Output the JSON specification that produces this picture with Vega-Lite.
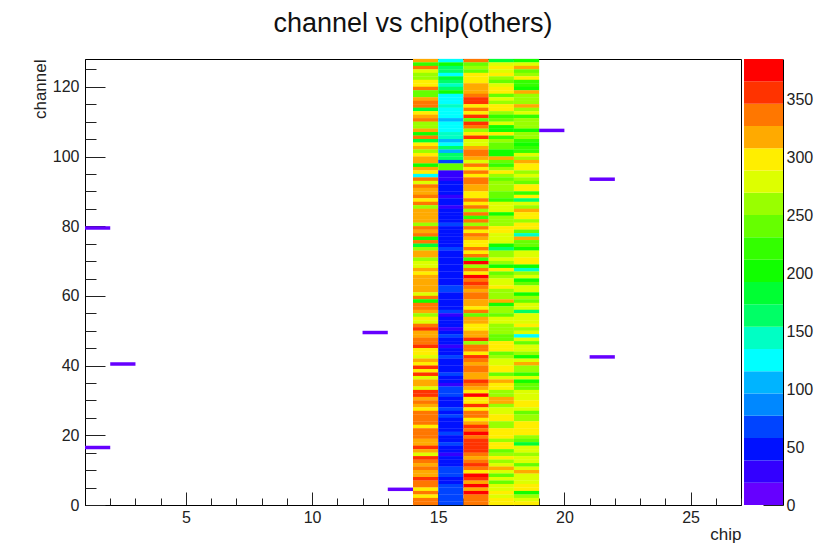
{"$schema":"https://vega.github.io/schema/vega-lite/v6.json","autosize":{"type":"none"},"padding":{"left":85,"top":59,"right":751,"bottom":486},"background":"white","spacing":2,"config":{"font":"Liberation Sans","view":{"stroke":null},"axis":{"grid":false,"labelFont":"Liberation Sans","titleFont":"Liberation Sans","labelFontSize":16,"titleFontSize":17,"titleFontWeight":"normal","labelColor":"#222","titleColor":"#222","tickColor":"#222","domainColor":"#000"}},
"datasets":{"bands":[{"lo":0,"hi":19.2,"v":10},{"lo":19.2,"hi":38.4,"v":29},{"lo":38.4,"hi":57.7,"v":48},{"lo":57.7,"hi":76.9,"v":67},{"lo":76.9,"hi":96.1,"v":86},{"lo":96.1,"hi":115.4,"v":106},{"lo":115.4,"hi":134.6,"v":125},{"lo":134.6,"hi":153.8,"v":144},{"lo":153.8,"hi":173.1,"v":163},{"lo":173.1,"hi":192.3,"v":182},{"lo":192.3,"hi":211.5,"v":202},{"lo":211.5,"hi":230.8,"v":221},{"lo":230.8,"hi":250,"v":240},{"lo":250,"hi":269.2,"v":259},{"lo":269.2,"hi":288.4,"v":279},{"lo":288.4,"hi":307.7,"v":298},{"lo":307.7,"hi":326.9,"v":317},{"lo":326.9,"hi":346.1,"v":336},{"lo":346.1,"hi":365.4,"v":355},{"lo":365.4,"hi":384.6,"v":375}],
"lone":[{"chip":1,"ch":16,"v":10},{"chip":1,"ch":79,"v":10},{"chip":2,"ch":40,"v":10},{"chip":12,"ch":49,"v":10},{"chip":13,"ch":4,"v":10},{"chip":19,"ch":107,"v":10},{"chip":21,"ch":93,"v":10},{"chip":21,"ch":42,"v":10}],
"cells":[
{"chip":14,"ch":127,"v":317},{"chip":14,"ch":126,"v":221},{"chip":14,"ch":125,"v":336},{"chip":14,"ch":124,"v":279},{"chip":14,"ch":123,"v":259},{"chip":14,"ch":122,"v":259},{"chip":14,"ch":121,"v":298},{"chip":14,"ch":120,"v":298},{"chip":14,"ch":119,"v":336},{"chip":14,"ch":118,"v":240},{"chip":14,"ch":117,"v":240},{"chip":14,"ch":116,"v":317},{"chip":14,"ch":115,"v":336},{"chip":14,"ch":114,"v":336},{"chip":14,"ch":113,"v":182},{"chip":14,"ch":112,"v":298},{"chip":14,"ch":111,"v":317},{"chip":14,"ch":110,"v":336},{"chip":14,"ch":109,"v":259},{"chip":14,"ch":108,"v":259},{"chip":14,"ch":107,"v":317},{"chip":14,"ch":106,"v":202},{"chip":14,"ch":105,"v":336},{"chip":14,"ch":104,"v":182},{"chip":14,"ch":103,"v":298},{"chip":14,"ch":102,"v":317},{"chip":14,"ch":101,"v":259},{"chip":14,"ch":100,"v":298},{"chip":14,"ch":99,"v":317},{"chip":14,"ch":98,"v":317},{"chip":14,"ch":97,"v":202},{"chip":14,"ch":96,"v":317},
{"chip":14,"ch":95,"v":298},{"chip":14,"ch":94,"v":125},{"chip":14,"ch":93,"v":336},{"chip":14,"ch":92,"v":279},{"chip":14,"ch":91,"v":336},{"chip":14,"ch":90,"v":317},{"chip":14,"ch":89,"v":317},{"chip":14,"ch":88,"v":336},{"chip":14,"ch":87,"v":298},{"chip":14,"ch":86,"v":336},{"chip":14,"ch":85,"v":259},{"chip":14,"ch":84,"v":317},{"chip":14,"ch":83,"v":317},{"chip":14,"ch":82,"v":317},{"chip":14,"ch":81,"v":317},{"chip":14,"ch":80,"v":259},{"chip":14,"ch":79,"v":336},{"chip":14,"ch":78,"v":317},{"chip":14,"ch":77,"v":336},{"chip":14,"ch":76,"v":202},{"chip":14,"ch":75,"v":336},{"chip":14,"ch":74,"v":182},{"chip":14,"ch":73,"v":259},{"chip":14,"ch":72,"v":317},{"chip":14,"ch":71,"v":317},{"chip":14,"ch":70,"v":259},{"chip":14,"ch":69,"v":279},{"chip":14,"ch":68,"v":279},{"chip":14,"ch":67,"v":317},{"chip":14,"ch":66,"v":298},{"chip":14,"ch":65,"v":317},{"chip":14,"ch":64,"v":317},{"chip":14,"ch":63,"v":317},
{"chip":14,"ch":62,"v":317},{"chip":14,"ch":61,"v":317},{"chip":14,"ch":60,"v":279},{"chip":14,"ch":59,"v":336},{"chip":14,"ch":58,"v":202},{"chip":14,"ch":57,"v":336},{"chip":14,"ch":56,"v":336},{"chip":14,"ch":55,"v":317},{"chip":14,"ch":54,"v":259},{"chip":14,"ch":53,"v":298},{"chip":14,"ch":52,"v":279},{"chip":14,"ch":51,"v":336},{"chip":14,"ch":50,"v":355},{"chip":14,"ch":49,"v":317},{"chip":14,"ch":48,"v":317},{"chip":14,"ch":47,"v":336},{"chip":14,"ch":46,"v":336},{"chip":14,"ch":45,"v":355},{"chip":14,"ch":44,"v":298},{"chip":14,"ch":43,"v":298},{"chip":14,"ch":42,"v":279},{"chip":14,"ch":41,"v":317},{"chip":14,"ch":40,"v":298},{"chip":14,"ch":39,"v":355},{"chip":14,"ch":38,"v":298},{"chip":14,"ch":37,"v":355},{"chip":14,"ch":36,"v":279},{"chip":14,"ch":35,"v":317},{"chip":14,"ch":34,"v":317},{"chip":14,"ch":33,"v":279},{"chip":14,"ch":32,"v":355},{"chip":14,"ch":31,"v":355},{"chip":14,"ch":30,"v":317},
{"chip":14,"ch":29,"v":336},{"chip":14,"ch":28,"v":317},{"chip":14,"ch":27,"v":298},{"chip":14,"ch":26,"v":336},{"chip":14,"ch":25,"v":336},{"chip":14,"ch":24,"v":336},{"chip":14,"ch":23,"v":336},{"chip":14,"ch":22,"v":298},{"chip":14,"ch":21,"v":336},{"chip":14,"ch":20,"v":336},{"chip":14,"ch":19,"v":336},{"chip":14,"ch":18,"v":317},{"chip":14,"ch":17,"v":317},{"chip":14,"ch":16,"v":355},{"chip":14,"ch":15,"v":317},{"chip":14,"ch":14,"v":279},{"chip":14,"ch":13,"v":355},{"chip":14,"ch":12,"v":336},{"chip":14,"ch":11,"v":317},{"chip":14,"ch":10,"v":336},{"chip":14,"ch":9,"v":317},{"chip":14,"ch":8,"v":317},{"chip":14,"ch":7,"v":355},{"chip":14,"ch":6,"v":336},{"chip":14,"ch":5,"v":336},{"chip":14,"ch":4,"v":298},{"chip":14,"ch":3,"v":336},{"chip":14,"ch":2,"v":298},{"chip":14,"ch":1,"v":336},{"chip":14,"ch":0,"v":336},
{"chip":15,"ch":127,"v":125},{"chip":15,"ch":126,"v":202},{"chip":15,"ch":125,"v":163},{"chip":15,"ch":124,"v":163},{"chip":15,"ch":123,"v":125},{"chip":15,"ch":122,"v":182},{"chip":15,"ch":121,"v":163},{"chip":15,"ch":120,"v":144},{"chip":15,"ch":119,"v":163},{"chip":15,"ch":118,"v":202},{"chip":15,"ch":117,"v":125},{"chip":15,"ch":116,"v":125},{"chip":15,"ch":115,"v":125},{"chip":15,"ch":114,"v":144},{"chip":15,"ch":113,"v":125},{"chip":15,"ch":112,"v":125},{"chip":15,"ch":111,"v":125},{"chip":15,"ch":110,"v":106},{"chip":15,"ch":109,"v":125},{"chip":15,"ch":108,"v":125},{"chip":15,"ch":107,"v":125},{"chip":15,"ch":106,"v":144},{"chip":15,"ch":105,"v":144},{"chip":15,"ch":104,"v":106},{"chip":15,"ch":103,"v":125},{"chip":15,"ch":102,"v":163},{"chip":15,"ch":101,"v":106},{"chip":15,"ch":100,"v":163},{"chip":15,"ch":99,"v":163},{"chip":15,"ch":98,"v":67},{"chip":15,"ch":97,"v":240},{"chip":15,"ch":96,"v":240},
{"chip":15,"ch":95,"v":29},{"chip":15,"ch":94,"v":29},{"chip":15,"ch":93,"v":29},{"chip":15,"ch":92,"v":48},{"chip":15,"ch":91,"v":48},{"chip":15,"ch":90,"v":48},{"chip":15,"ch":89,"v":48},{"chip":15,"ch":88,"v":29},{"chip":15,"ch":87,"v":48},{"chip":15,"ch":86,"v":48},{"chip":15,"ch":85,"v":29},{"chip":15,"ch":84,"v":48},{"chip":15,"ch":83,"v":48},{"chip":15,"ch":82,"v":48},{"chip":15,"ch":81,"v":48},{"chip":15,"ch":80,"v":67},{"chip":15,"ch":79,"v":48},{"chip":15,"ch":78,"v":48},{"chip":15,"ch":77,"v":48},{"chip":15,"ch":76,"v":48},{"chip":15,"ch":75,"v":48},{"chip":15,"ch":74,"v":48},{"chip":15,"ch":73,"v":67},{"chip":15,"ch":72,"v":48},{"chip":15,"ch":71,"v":48},{"chip":15,"ch":70,"v":48},{"chip":15,"ch":69,"v":48},{"chip":15,"ch":68,"v":48},{"chip":15,"ch":67,"v":48},{"chip":15,"ch":66,"v":48},{"chip":15,"ch":65,"v":48},{"chip":15,"ch":64,"v":48},{"chip":15,"ch":63,"v":48},
{"chip":15,"ch":62,"v":67},{"chip":15,"ch":61,"v":67},{"chip":15,"ch":60,"v":48},{"chip":15,"ch":59,"v":48},{"chip":15,"ch":58,"v":48},{"chip":15,"ch":57,"v":48},{"chip":15,"ch":56,"v":48},{"chip":15,"ch":55,"v":67},{"chip":15,"ch":54,"v":29},{"chip":15,"ch":53,"v":48},{"chip":15,"ch":52,"v":48},{"chip":15,"ch":51,"v":48},{"chip":15,"ch":50,"v":29},{"chip":15,"ch":49,"v":48},{"chip":15,"ch":48,"v":67},{"chip":15,"ch":47,"v":48},{"chip":15,"ch":46,"v":48},{"chip":15,"ch":45,"v":29},{"chip":15,"ch":44,"v":48},{"chip":15,"ch":43,"v":48},{"chip":15,"ch":42,"v":67},{"chip":15,"ch":41,"v":48},{"chip":15,"ch":40,"v":48},{"chip":15,"ch":39,"v":48},{"chip":15,"ch":38,"v":48},{"chip":15,"ch":37,"v":67},{"chip":15,"ch":36,"v":48},{"chip":15,"ch":35,"v":48},{"chip":15,"ch":34,"v":29},{"chip":15,"ch":33,"v":67},{"chip":15,"ch":32,"v":67},{"chip":15,"ch":31,"v":67},{"chip":15,"ch":30,"v":48},
{"chip":15,"ch":29,"v":48},{"chip":15,"ch":28,"v":48},{"chip":15,"ch":27,"v":67},{"chip":15,"ch":26,"v":48},{"chip":15,"ch":25,"v":67},{"chip":15,"ch":24,"v":48},{"chip":15,"ch":23,"v":48},{"chip":15,"ch":22,"v":48},{"chip":15,"ch":21,"v":48},{"chip":15,"ch":20,"v":67},{"chip":15,"ch":19,"v":48},{"chip":15,"ch":18,"v":48},{"chip":15,"ch":17,"v":67},{"chip":15,"ch":16,"v":48},{"chip":15,"ch":15,"v":48},{"chip":15,"ch":14,"v":29},{"chip":15,"ch":13,"v":48},{"chip":15,"ch":12,"v":48},{"chip":15,"ch":11,"v":48},{"chip":15,"ch":10,"v":67},{"chip":15,"ch":9,"v":67},{"chip":15,"ch":8,"v":67},{"chip":15,"ch":7,"v":48},{"chip":15,"ch":6,"v":48},{"chip":15,"ch":5,"v":67},{"chip":15,"ch":4,"v":67},{"chip":15,"ch":3,"v":67},{"chip":15,"ch":2,"v":67},{"chip":15,"ch":1,"v":67},{"chip":15,"ch":0,"v":67},
{"chip":16,"ch":127,"v":336},{"chip":16,"ch":126,"v":240},{"chip":16,"ch":125,"v":259},{"chip":16,"ch":124,"v":240},{"chip":16,"ch":123,"v":298},{"chip":16,"ch":122,"v":298},{"chip":16,"ch":121,"v":298},{"chip":16,"ch":120,"v":317},{"chip":16,"ch":119,"v":317},{"chip":16,"ch":118,"v":317},{"chip":16,"ch":117,"v":336},{"chip":16,"ch":116,"v":355},{"chip":16,"ch":115,"v":355},{"chip":16,"ch":114,"v":298},{"chip":16,"ch":113,"v":336},{"chip":16,"ch":112,"v":298},{"chip":16,"ch":111,"v":355},{"chip":16,"ch":110,"v":240},{"chip":16,"ch":109,"v":355},{"chip":16,"ch":108,"v":336},{"chip":16,"ch":107,"v":259},{"chip":16,"ch":106,"v":298},{"chip":16,"ch":105,"v":355},{"chip":16,"ch":104,"v":279},{"chip":16,"ch":103,"v":279},{"chip":16,"ch":102,"v":317},{"chip":16,"ch":101,"v":336},{"chip":16,"ch":100,"v":336},{"chip":16,"ch":99,"v":317},{"chip":16,"ch":98,"v":279},{"chip":16,"ch":97,"v":336},{"chip":16,"ch":96,"v":298},
{"chip":16,"ch":95,"v":336},{"chip":16,"ch":94,"v":298},{"chip":16,"ch":93,"v":336},{"chip":16,"ch":92,"v":336},{"chip":16,"ch":91,"v":317},{"chip":16,"ch":90,"v":317},{"chip":16,"ch":89,"v":298},{"chip":16,"ch":88,"v":298},{"chip":16,"ch":87,"v":336},{"chip":16,"ch":86,"v":298},{"chip":16,"ch":85,"v":336},{"chip":16,"ch":84,"v":259},{"chip":16,"ch":83,"v":336},{"chip":16,"ch":82,"v":221},{"chip":16,"ch":81,"v":336},{"chip":16,"ch":80,"v":259},{"chip":16,"ch":79,"v":336},{"chip":16,"ch":78,"v":298},{"chip":16,"ch":77,"v":336},{"chip":16,"ch":76,"v":317},{"chip":16,"ch":75,"v":298},{"chip":16,"ch":74,"v":298},{"chip":16,"ch":73,"v":336},{"chip":16,"ch":72,"v":298},{"chip":16,"ch":71,"v":336},{"chip":16,"ch":70,"v":221},{"chip":16,"ch":69,"v":375},{"chip":16,"ch":68,"v":259},{"chip":16,"ch":67,"v":336},{"chip":16,"ch":66,"v":298},{"chip":16,"ch":65,"v":375},{"chip":16,"ch":64,"v":336},{"chip":16,"ch":63,"v":355},
{"chip":16,"ch":62,"v":336},{"chip":16,"ch":61,"v":317},{"chip":16,"ch":60,"v":336},{"chip":16,"ch":59,"v":336},{"chip":16,"ch":58,"v":317},{"chip":16,"ch":57,"v":317},{"chip":16,"ch":56,"v":298},{"chip":16,"ch":55,"v":336},{"chip":16,"ch":54,"v":240},{"chip":16,"ch":53,"v":317},{"chip":16,"ch":52,"v":317},{"chip":16,"ch":51,"v":298},{"chip":16,"ch":50,"v":298},{"chip":16,"ch":49,"v":317},{"chip":16,"ch":48,"v":317},{"chip":16,"ch":47,"v":355},{"chip":16,"ch":46,"v":259},{"chip":16,"ch":45,"v":336},{"chip":16,"ch":44,"v":336},{"chip":16,"ch":43,"v":298},{"chip":16,"ch":42,"v":355},{"chip":16,"ch":41,"v":336},{"chip":16,"ch":40,"v":317},{"chip":16,"ch":39,"v":336},{"chip":16,"ch":38,"v":336},{"chip":16,"ch":37,"v":317},{"chip":16,"ch":36,"v":317},{"chip":16,"ch":35,"v":355},{"chip":16,"ch":34,"v":336},{"chip":16,"ch":33,"v":317},{"chip":16,"ch":32,"v":298},{"chip":16,"ch":31,"v":375},{"chip":16,"ch":30,"v":298},
{"chip":16,"ch":29,"v":298},{"chip":16,"ch":28,"v":355},{"chip":16,"ch":27,"v":298},{"chip":16,"ch":26,"v":336},{"chip":16,"ch":25,"v":336},{"chip":16,"ch":24,"v":298},{"chip":16,"ch":23,"v":317},{"chip":16,"ch":22,"v":355},{"chip":16,"ch":21,"v":336},{"chip":16,"ch":20,"v":375},{"chip":16,"ch":19,"v":336},{"chip":16,"ch":18,"v":355},{"chip":16,"ch":17,"v":355},{"chip":16,"ch":16,"v":355},{"chip":16,"ch":15,"v":355},{"chip":16,"ch":14,"v":336},{"chip":16,"ch":13,"v":317},{"chip":16,"ch":12,"v":336},{"chip":16,"ch":11,"v":355},{"chip":16,"ch":10,"v":336},{"chip":16,"ch":9,"v":298},{"chip":16,"ch":8,"v":375},{"chip":16,"ch":7,"v":355},{"chip":16,"ch":6,"v":317},{"chip":16,"ch":5,"v":375},{"chip":16,"ch":4,"v":317},{"chip":16,"ch":3,"v":375},{"chip":16,"ch":2,"v":336},{"chip":16,"ch":1,"v":336},{"chip":16,"ch":0,"v":336},
{"chip":17,"ch":127,"v":182},{"chip":17,"ch":126,"v":279},{"chip":17,"ch":125,"v":298},{"chip":17,"ch":124,"v":279},{"chip":17,"ch":123,"v":298},{"chip":17,"ch":122,"v":259},{"chip":17,"ch":121,"v":240},{"chip":17,"ch":120,"v":279},{"chip":17,"ch":119,"v":298},{"chip":17,"ch":118,"v":298},{"chip":17,"ch":117,"v":240},{"chip":17,"ch":116,"v":279},{"chip":17,"ch":115,"v":259},{"chip":17,"ch":114,"v":298},{"chip":17,"ch":113,"v":298},{"chip":17,"ch":112,"v":259},{"chip":17,"ch":111,"v":221},{"chip":17,"ch":110,"v":240},{"chip":17,"ch":109,"v":279},{"chip":17,"ch":108,"v":202},{"chip":17,"ch":107,"v":202},{"chip":17,"ch":106,"v":298},{"chip":17,"ch":105,"v":221},{"chip":17,"ch":104,"v":259},{"chip":17,"ch":103,"v":240},{"chip":17,"ch":102,"v":240},{"chip":17,"ch":101,"v":202},{"chip":17,"ch":100,"v":202},{"chip":17,"ch":99,"v":317},{"chip":17,"ch":98,"v":240},{"chip":17,"ch":97,"v":221},{"chip":17,"ch":96,"v":259},
{"chip":17,"ch":95,"v":298},{"chip":17,"ch":94,"v":259},{"chip":17,"ch":93,"v":240},{"chip":17,"ch":92,"v":259},{"chip":17,"ch":91,"v":259},{"chip":17,"ch":90,"v":259},{"chip":17,"ch":89,"v":240},{"chip":17,"ch":88,"v":240},{"chip":17,"ch":87,"v":221},{"chip":17,"ch":86,"v":279},{"chip":17,"ch":85,"v":279},{"chip":17,"ch":84,"v":279},{"chip":17,"ch":83,"v":202},{"chip":17,"ch":82,"v":259},{"chip":17,"ch":81,"v":259},{"chip":17,"ch":80,"v":259},{"chip":17,"ch":79,"v":298},{"chip":17,"ch":78,"v":298},{"chip":17,"ch":77,"v":279},{"chip":17,"ch":76,"v":279},{"chip":17,"ch":75,"v":279},{"chip":17,"ch":74,"v":202},{"chip":17,"ch":73,"v":163},{"chip":17,"ch":72,"v":259},{"chip":17,"ch":71,"v":259},{"chip":17,"ch":70,"v":279},{"chip":17,"ch":69,"v":259},{"chip":17,"ch":68,"v":202},{"chip":17,"ch":67,"v":298},{"chip":17,"ch":66,"v":240},{"chip":17,"ch":65,"v":259},{"chip":17,"ch":64,"v":279},{"chip":17,"ch":63,"v":279},
{"chip":17,"ch":62,"v":298},{"chip":17,"ch":61,"v":259},{"chip":17,"ch":60,"v":259},{"chip":17,"ch":59,"v":259},{"chip":17,"ch":58,"v":317},{"chip":17,"ch":57,"v":202},{"chip":17,"ch":56,"v":259},{"chip":17,"ch":55,"v":259},{"chip":17,"ch":54,"v":240},{"chip":17,"ch":53,"v":279},{"chip":17,"ch":52,"v":279},{"chip":17,"ch":51,"v":259},{"chip":17,"ch":50,"v":259},{"chip":17,"ch":49,"v":259},{"chip":17,"ch":48,"v":240},{"chip":17,"ch":47,"v":240},{"chip":17,"ch":46,"v":298},{"chip":17,"ch":45,"v":298},{"chip":17,"ch":44,"v":298},{"chip":17,"ch":43,"v":240},{"chip":17,"ch":42,"v":259},{"chip":17,"ch":41,"v":279},{"chip":17,"ch":40,"v":279},{"chip":17,"ch":39,"v":298},{"chip":17,"ch":38,"v":298},{"chip":17,"ch":37,"v":240},{"chip":17,"ch":36,"v":279},{"chip":17,"ch":35,"v":317},{"chip":17,"ch":34,"v":298},{"chip":17,"ch":33,"v":298},{"chip":17,"ch":32,"v":259},{"chip":17,"ch":31,"v":259},{"chip":17,"ch":30,"v":317},
{"chip":17,"ch":29,"v":317},{"chip":17,"ch":28,"v":259},{"chip":17,"ch":27,"v":279},{"chip":17,"ch":26,"v":279},{"chip":17,"ch":25,"v":298},{"chip":17,"ch":24,"v":298},{"chip":17,"ch":23,"v":259},{"chip":17,"ch":22,"v":259},{"chip":17,"ch":21,"v":298},{"chip":17,"ch":20,"v":298},{"chip":17,"ch":19,"v":298},{"chip":17,"ch":18,"v":259},{"chip":17,"ch":17,"v":298},{"chip":17,"ch":16,"v":298},{"chip":17,"ch":15,"v":240},{"chip":17,"ch":14,"v":259},{"chip":17,"ch":13,"v":298},{"chip":17,"ch":12,"v":259},{"chip":17,"ch":11,"v":279},{"chip":17,"ch":10,"v":317},{"chip":17,"ch":9,"v":279},{"chip":17,"ch":8,"v":240},{"chip":17,"ch":7,"v":279},{"chip":17,"ch":6,"v":240},{"chip":17,"ch":5,"v":279},{"chip":17,"ch":4,"v":279},{"chip":17,"ch":3,"v":298},{"chip":17,"ch":2,"v":279},{"chip":17,"ch":1,"v":298},{"chip":17,"ch":0,"v":298},
{"chip":18,"ch":127,"v":202},{"chip":18,"ch":126,"v":279},{"chip":18,"ch":125,"v":317},{"chip":18,"ch":124,"v":240},{"chip":18,"ch":123,"v":259},{"chip":18,"ch":122,"v":298},{"chip":18,"ch":121,"v":221},{"chip":18,"ch":120,"v":221},{"chip":18,"ch":119,"v":202},{"chip":18,"ch":118,"v":317},{"chip":18,"ch":117,"v":259},{"chip":18,"ch":116,"v":259},{"chip":18,"ch":115,"v":259},{"chip":18,"ch":114,"v":317},{"chip":18,"ch":113,"v":259},{"chip":18,"ch":112,"v":279},{"chip":18,"ch":111,"v":221},{"chip":18,"ch":110,"v":259},{"chip":18,"ch":109,"v":259},{"chip":18,"ch":108,"v":259},{"chip":18,"ch":107,"v":202},{"chip":18,"ch":106,"v":259},{"chip":18,"ch":105,"v":259},{"chip":18,"ch":104,"v":221},{"chip":18,"ch":103,"v":202},{"chip":18,"ch":102,"v":221},{"chip":18,"ch":101,"v":221},{"chip":18,"ch":100,"v":279},{"chip":18,"ch":99,"v":259},{"chip":18,"ch":98,"v":317},{"chip":18,"ch":97,"v":298},{"chip":18,"ch":96,"v":298},
{"chip":18,"ch":95,"v":259},{"chip":18,"ch":94,"v":279},{"chip":18,"ch":93,"v":259},{"chip":18,"ch":92,"v":240},{"chip":18,"ch":91,"v":298},{"chip":18,"ch":90,"v":298},{"chip":18,"ch":89,"v":221},{"chip":18,"ch":88,"v":298},{"chip":18,"ch":87,"v":163},{"chip":18,"ch":86,"v":279},{"chip":18,"ch":85,"v":259},{"chip":18,"ch":84,"v":317},{"chip":18,"ch":83,"v":298},{"chip":18,"ch":82,"v":298},{"chip":18,"ch":81,"v":259},{"chip":18,"ch":80,"v":298},{"chip":18,"ch":79,"v":298},{"chip":18,"ch":78,"v":240},{"chip":18,"ch":77,"v":144},{"chip":18,"ch":76,"v":317},{"chip":18,"ch":75,"v":240},{"chip":18,"ch":74,"v":240},{"chip":18,"ch":73,"v":202},{"chip":18,"ch":72,"v":279},{"chip":18,"ch":71,"v":279},{"chip":18,"ch":70,"v":298},{"chip":18,"ch":69,"v":298},{"chip":18,"ch":68,"v":202},{"chip":18,"ch":67,"v":144},{"chip":18,"ch":66,"v":259},{"chip":18,"ch":65,"v":279},{"chip":18,"ch":64,"v":202},{"chip":18,"ch":63,"v":240},
{"chip":18,"ch":62,"v":279},{"chip":18,"ch":61,"v":279},{"chip":18,"ch":60,"v":202},{"chip":18,"ch":59,"v":259},{"chip":18,"ch":58,"v":240},{"chip":18,"ch":57,"v":279},{"chip":18,"ch":56,"v":279},{"chip":18,"ch":55,"v":163},{"chip":18,"ch":54,"v":279},{"chip":18,"ch":53,"v":279},{"chip":18,"ch":52,"v":279},{"chip":18,"ch":51,"v":298},{"chip":18,"ch":50,"v":259},{"chip":18,"ch":49,"v":279},{"chip":18,"ch":48,"v":125},{"chip":18,"ch":47,"v":279},{"chip":18,"ch":46,"v":240},{"chip":18,"ch":45,"v":279},{"chip":18,"ch":44,"v":279},{"chip":18,"ch":43,"v":259},{"chip":18,"ch":42,"v":202},{"chip":18,"ch":41,"v":279},{"chip":18,"ch":40,"v":317},{"chip":18,"ch":39,"v":259},{"chip":18,"ch":38,"v":259},{"chip":18,"ch":37,"v":221},{"chip":18,"ch":36,"v":279},{"chip":18,"ch":35,"v":202},{"chip":18,"ch":34,"v":240},{"chip":18,"ch":33,"v":240},{"chip":18,"ch":32,"v":279},{"chip":18,"ch":31,"v":279},{"chip":18,"ch":30,"v":279},
{"chip":18,"ch":29,"v":298},{"chip":18,"ch":28,"v":298},{"chip":18,"ch":27,"v":279},{"chip":18,"ch":26,"v":240},{"chip":18,"ch":25,"v":259},{"chip":18,"ch":24,"v":259},{"chip":18,"ch":23,"v":298},{"chip":18,"ch":22,"v":298},{"chip":18,"ch":21,"v":298},{"chip":18,"ch":20,"v":298},{"chip":18,"ch":19,"v":259},{"chip":18,"ch":18,"v":240},{"chip":18,"ch":17,"v":182},{"chip":18,"ch":16,"v":279},{"chip":18,"ch":15,"v":279},{"chip":18,"ch":14,"v":259},{"chip":18,"ch":13,"v":279},{"chip":18,"ch":12,"v":279},{"chip":18,"ch":11,"v":240},{"chip":18,"ch":10,"v":279},{"chip":18,"ch":9,"v":317},{"chip":18,"ch":8,"v":279},{"chip":18,"ch":7,"v":279},{"chip":18,"ch":6,"v":279},{"chip":18,"ch":5,"v":298},{"chip":18,"ch":4,"v":298},{"chip":18,"ch":3,"v":202},{"chip":18,"ch":2,"v":259},{"chip":18,"ch":1,"v":279},{"chip":18,"ch":0,"v":298}
]},
"hconcat":[
{"width":656,"height":446,
"title":{"text":"channel vs chip(others)","font":"Liberation Sans","fontSize":27,"fontWeight":"normal","color":"#111","anchor":"middle","offset":21},
"view":{"stroke":"#000","strokeWidth":1},
"resolve":{"axis":{"x":"independent","y":"independent"}},
"layer":[
{"data":{"name":"cells"},"mark":{"type":"rect","width":25.23,"height":3.75,"xOffset":12.62,"yOffset":-1.742},
"encoding":{
"x":{"field":"chip","type":"quantitative","scale":{"domain":[1,27],"nice":false,"zero":false},
"axis":{"orient":"bottom","values":[5,10,15,20,25],"tickSize":-13,"labelPadding":17,"labelFontSize":16,"title":"chip","titleAnchor":"end","titlePadding":1,"format":"d","labelFlush":false,"domain":true}},
"y":{"field":"ch","type":"quantitative","scale":{"domain":[0,128],"nice":false,"zero":false},
"axis":{"orient":"left","values":[0,20,40,60,80,100,120],"tickSize":-20,"labelPadding":26,"title":"channel","titleAnchor":"end","titlePadding":3,"format":"d"}},
"color":{"field":"v","type":"quantitative","legend":null,"scale":{"type":"threshold","domain":[19.2,38.4,57.7,76.9,96.1,115.4,134.6,153.8,173.1,192.3,211.5,230.8,250,269.2,288.4,307.7,326.9,346.1,365.4],"range":["#6600ff","#3300ff","#0011ff","#0044ff","#0088ff","#00b4ff","#00ffff","#00ffc4","#00ff66","#00ff33","#11ff00","#33ff00","#66ff00","#99ff00","#ddff00","#ffee00","#ffaa00","#ff7700","#ff3300","#ff0000"]}}}},
{"data":{"name":"lone"},"mark":{"type":"rect","width":25.23,"height":3.484,"xOffset":12.62,"yOffset":-1.742},
"encoding":{
"x":{"field":"chip","type":"quantitative","axis":{"orient":"bottom","values":[1,2,3,4,6,7,8,9,11,12,13,14,16,17,18,19,21,22,23,24,26,27],"tickSize":-7,"labels":false,"title":null,"domain":false}},
"y":{"field":"ch","type":"quantitative","axis":{"orient":"left","values":[5,10,15,25,30,35,45,50,55,65,70,75,85,90,95,105,110,115,125],"tickSize":-11,"labels":false,"title":null,"domain":false}},
"color":{"field":"v","type":"quantitative","legend":null,"scale":{"type":"threshold","domain":[19.2,38.4,57.7,76.9,96.1,115.4,134.6,153.8,173.1,192.3,211.5,230.8,250,269.2,288.4,307.7,326.9,346.1,365.4],"range":["#6600ff","#3300ff","#0011ff","#0044ff","#0088ff","#00b4ff","#00ffff","#00ffc4","#00ff66","#00ff33","#11ff00","#33ff00","#66ff00","#99ff00","#ddff00","#ffee00","#ffaa00","#ff7700","#ff3300","#ff0000"]}}}}
]},
{"width":39,"height":446,
"data":{"name":"bands"},
"mark":{"type":"rect"},
"encoding":{
"y":{"field":"lo","type":"quantitative","scale":{"domain":[0,384.6],"nice":false,"zero":false},
"axis":{"orient":"right","values":[0,50,100,150,200,250,300,350],"tickSize":-20,"labelPadding":23,"title":null,"format":"d"}},
"y2":{"field":"hi"},
"color":{"field":"v","type":"quantitative","legend":null,"scale":{"type":"threshold","domain":[19.2,38.4,57.7,76.9,96.1,115.4,134.6,153.8,173.1,192.3,211.5,230.8,250,269.2,288.4,307.7,326.9,346.1,365.4],"range":["#6600ff","#3300ff","#0011ff","#0044ff","#0088ff","#00b4ff","#00ffff","#00ffc4","#00ff66","#00ff33","#11ff00","#33ff00","#66ff00","#99ff00","#ddff00","#ffee00","#ffaa00","#ff7700","#ff3300","#ff0000"]}}}}
],
"resolve":{"scale":{"color":"independent","y":"independent"}}
}
